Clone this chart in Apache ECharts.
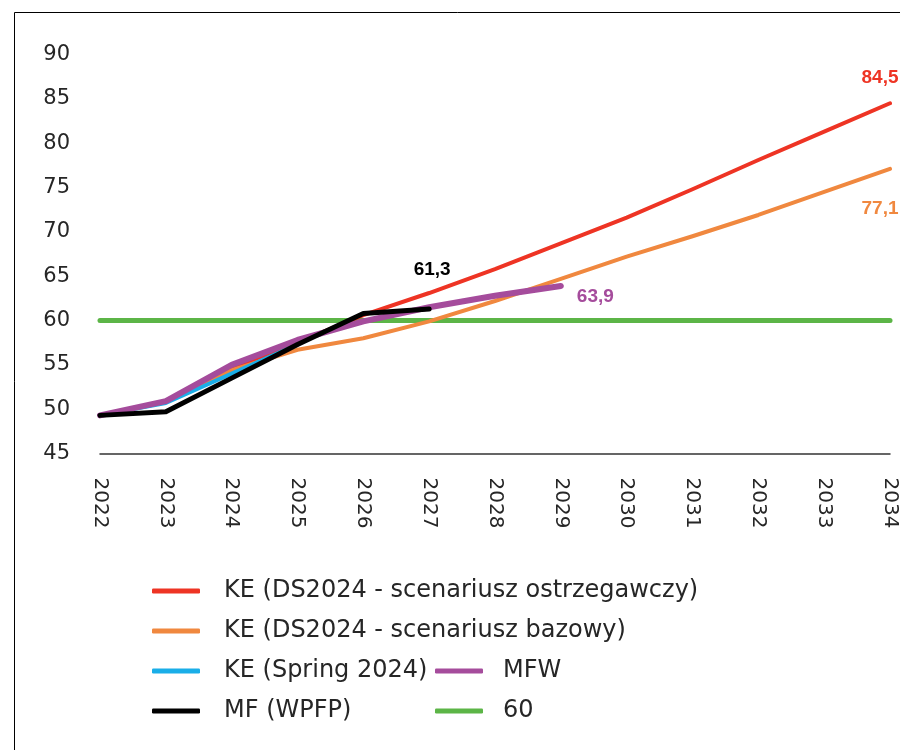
<!DOCTYPE html>
<html>
<head>
<meta charset="utf-8">
<script src="https://cdn.jsdelivr.net/npm/echarts@6/dist/echarts.min.js"></script>
<style>
html,body{margin:0;padding:0;background:#fff;}
#chart{width:900px;height:750px;}
</style>
</head>
<body>
<div id="chart"></div>
<script>
const years = ['2022','2023','2024','2025','2026','2027','2028','2029','2030','2031','2032','2033','2034'];
const keWarning = [49.3, 50.9, 54.6, 57.5, 60.6, 63.1, 65.8, 68.7, 71.6, 74.8, 78.1, 81.3, 84.5];
const keBase    = [49.3, 50.8, 54.4, 56.7, 58.0, 59.9, 62.2, 64.7, 67.2, 69.5, 71.9, 74.5, 77.1];
const keSpring  = [49.3, 50.7, 54.0, 57.3];
const mfw       = [49.3, 50.9, 55.0, 57.8, 59.9, 61.5, 62.8, 63.9];
const mfWpfp    = [49.3, 49.7, 53.5, 57.3, 60.8, 61.3];
const threshold = [60, 60, 60, 60, 60, 60, 60, 60, 60, 60, 60, 60, 60];
const yTicks = [45, 50, 55, 60, 65, 70, 75, 80, 85, 90];

const names = {
  red: 'KE (DS2024 - scenariusz ostrzegawczy)',
  orange: 'KE (DS2024 - scenariusz bazowy)',
  blue: 'KE (Spring 2024)',
  black: 'MF (WPFP)',
  purple: 'MFW',
  green: '60'
};
const colors = {red:'#ee3424', orange:'#f0883f', blue:'#1aaee8', black:'#000000', purple:'#a54c9c', green:'#5cb547'};
const txtFont = "'DejaVu Sans', 'Noto Sans', sans-serif";
const lblFont = "'Liberation Sans Narrow', 'Liberation Sans', sans-serif";
const txtColor = '#262626';

function fmt(v){ return v.toFixed(1).replace('.', ','); }
function lastLabel(arr, color, pos, distance, offset){
  return arr.map((v, i) => i === arr.length - 1 ? {
    value: v,
    label: {show: true, position: pos, distance: distance, offset: offset, formatter: fmt(v),
      color: color, fontFamily: lblFont, fontWeight: 'bold', fontSize: 19}
  } : v);
}
function line(name, data, color, width, z){
  return {name: name, type: 'line', data: data, showSymbol: true, symbol: 'circle', symbolSize: 0,
    lineStyle: {color: color, width: width, cap: 'round', join: 'round'}, itemStyle: {color: color},
    label: {show: false},
    emphasis: {disabled: true}, z: z, silent: true, animation: false};
}

const chart = echarts.init(document.getElementById('chart'), null, {renderer: 'canvas'});
chart.setOption({
  animation: false,
  grid: {left: 100, right: 7, top: 54.5, bottom: 296.5, containLabel: false},
  xAxis: {
    type: 'category', data: years, boundaryGap: false,
    axisLine: {show: true, lineStyle: {color: '#333', width: 1.5}},
    axisTick: {show: false},
    splitLine: {show: false},
    axisLabel: {rotate: -90, fontFamily: txtFont, fontSize: 20, color: txtColor, margin: 24, interval: 0}
  },
  yAxis: {
    type: 'value', min: yTicks[0], max: yTicks[yTicks.length - 1], interval: 5,
    axisLine: {show: false}, axisTick: {show: false}, splitLine: {show: false},
    axisLabel: {fontFamily: txtFont, fontSize: 21, color: txtColor, margin: 30}
  },
  legend: [
    {left: 152, top: 579, padding: 0, orient: 'vertical', itemGap: 16, itemWidth: 48, itemHeight: 5, icon: 'roundRect',
     data: [names.red, names.orange, names.blue, names.black],
     textStyle: {fontFamily: txtFont, fontSize: 24, color: txtColor, padding: [0, 0, 0, 19]}, selectedMode: false},
    {left: 435, top: 659, padding: 0, orient: 'vertical', itemGap: 16, itemWidth: 48, itemHeight: 5, icon: 'roundRect',
     data: [names.purple, names.green],
     textStyle: {fontFamily: txtFont, fontSize: 24, color: txtColor, padding: [0, 0, 0, 15]}, selectedMode: false}
  ],
  graphic: [
    {type: 'line', shape: {x1: 14.5, y1: 12.5, x2: 900, y2: 12.5}, style: {stroke: '#000', lineWidth: 1}},
    {type: 'line', shape: {x1: 14.5, y1: 12.5, x2: 14.5, y2: 750}, style: {stroke: '#000', lineWidth: 1}}
  ],
  series: [
    line(names.green, threshold, colors.green, 5, 2),
    line(names.red, lastLabel(keWarning, colors.red, 'top', 16, [-10, 0]), colors.red, 4, 3),
    line(names.orange, lastLabel(keBase, colors.orange, 'bottom', 30, [-10, 0]), colors.orange, 4, 3),
    line(names.blue, keSpring, colors.blue, 4, 4),
    line(names.purple, lastLabel(mfw, colors.purple, 'right', 16, [0, 11]), colors.purple, 6, 5),
    line(names.black, lastLabel(mfWpfp, colors.black, 'top', 30, [3, 0]), colors.black, 5, 6)
  ]
});
</script>
</body>
</html>
